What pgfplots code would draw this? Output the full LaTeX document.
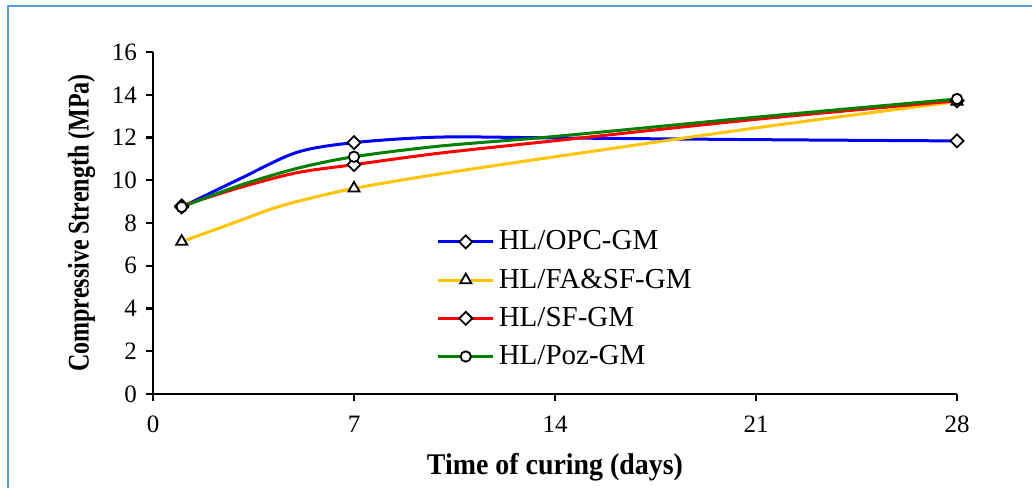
\documentclass[border=0pt]{standalone}
\usepackage{fontspec}
\setmainfont{Liberation Serif}
\usepackage{pgfplots}
\pgfplotsset{compat=1.18}

\definecolor{framecol}{RGB}{91,155,213}
\definecolor{cOPC}{RGB}{0,0,255}
\definecolor{cFA}{RGB}{255,196,0}
\definecolor{cSF}{RGB}{255,0,0}
\definecolor{cPoz}{RGB}{0,128,0}

\pgfplotsset{
  curve/.style={line width=1.5pt, smooth},
  dmark/.style={mark=square*, mark size=2.3pt,
    mark options={solid, rotate=45, fill=white, draw=black, line width=0.9pt}},
  tmark/.style={mark=triangle*, mark size=3.2pt,
    mark options={solid, fill=white, draw=black, line width=0.9pt}},
  cmark/.style={mark=*, mark size=2.6pt,
    mark options={solid, fill=white, draw=black, line width=0.9pt}},
}

\begin{document}
\begin{tikzpicture}
\useasboundingbox (0,0) rectangle (516pt,243.5pt);
\draw[framecol, line width=1pt] (4pt,-1pt) -- (4pt,240.5pt) -- (517pt,240.5pt);
\begin{axis}[
  at={(76.5pt,46.5pt)}, anchor=south west,
  scale only axis, width=402pt, height=171pt,
  xmin=0, xmax=28, ymin=0, ymax=16,
  axis x line=bottom, axis y line=left,
  axis line style={-, line width=1.2pt, black},
  xtick={0,7,14,21,28}, ytick={0,2,...,16},
  tick align=outside, major tick length=3.5pt,
  tick style={line width=1.2pt, black},
  /pgf/number format/assume math mode=true,
  tick label style={font=\fontsize{12.5}{13}\selectfont},
  xticklabel style={yshift=-4pt},
  yticklabel style={xshift=-1pt},
  xlabel={\scalebox{0.93}[1]{\bfseries Time of curing (days)}},
  ylabel={\scalebox{0.8}[1]{\bfseries Compressive Strength (MPa)}},
  label style={font=\fontsize{15}{16}\selectfont},
  xlabel style={yshift=-3.5pt},
  ylabel style={yshift=1.5pt},
  legend style={at={(0.345,0.502)}, anchor=north west, draw=none, fill=none,
    font=\fontsize{14.5}{15}\selectfont, row sep=4pt,
    /tikz/every even column/.append style={column sep=5pt}},
  legend cell align=left,
  legend image code/.code={\draw[#1, mark indices={2}]
    plot coordinates {(0pt,0pt) (13.75pt,0pt) (27.5pt,0pt)};},
]
% HL/OPC-GM
\addplot[cOPC, curve, dmark, mark indices={1,4,8}] coordinates {
  (1,8.75) (3,10.05) (5,11.3) (7,11.76) (10,12.02) (14,11.98) (21,11.9) (28,11.84)};
\addlegendentry{HL/OPC-GM}
% HL/FA&SF-GM
\addplot[cFA, curve, tmark, mark indices={1,5,9}] coordinates {
  (1,7.13) (3,8.1) (4,8.6) (5,9.0) (7,9.62) (10,10.3) (14,11.1) (21,12.45) (28,13.68)};
\addlegendentry{HL/FA\&SF-GM}
% HL/SF-GM
\addplot[cSF, curve, dmark, mark indices={1,4,8}] coordinates {
  (1,8.8) (3,9.65) (5,10.35) (7,10.73) (10,11.27) (14,11.85) (21,12.85) (28,13.72)};
\addlegendentry{HL/SF-GM}
% HL/Poz-GM
\addplot[cPoz, curve, cmark, mark indices={1,4,8}] coordinates {
  (1,8.75) (3,9.75) (5,10.55) (7,11.1) (10,11.6) (14,12.05) (21,12.95) (28,13.8)};
\addlegendentry{HL/Poz-GM}
\end{axis}
\end{tikzpicture}
\end{document}
